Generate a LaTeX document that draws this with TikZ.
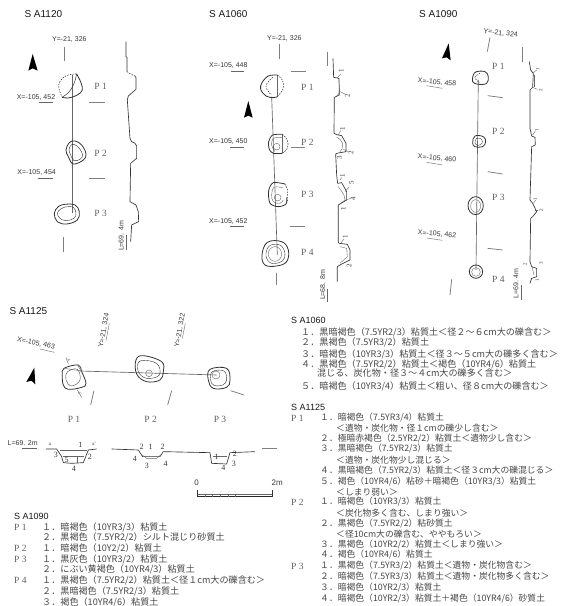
\documentclass[tikz,border=0pt]{standalone}
\usepackage{fontspec}
\setmainfont{Liberation Serif}
\newfontfamily\cjk{Noto Sans CJK JP}
\newfontfamily\arial{Liberation Sans}
\newcounter{ln}
\newcommand\Ln[3]{\stepcounter{ln}\node[jp] (ln\theln) at (#1,#2) {#3};}
\newcommand\Blob[2][]{\draw[hole,#1] plot[smooth cycle,tension=.65] coordinates {#2};}
\colorlet{ink}{black!80}
\tikzset{
 jp/.style={anchor=west,inner sep=0,text=black!72,font=\cjk\fontsize{9.1}{9.1}\selectfont},
 mk/.style={inner sep=0,text=black!78,font=\arial\fontsize{7}{7}\selectfont},
 hd/.style={inner sep=0,text=black!90,font=\arial\fontsize{10}{10}\selectfont},
 hs/.style={anchor=west,inner sep=0,text=black!90,font=\arial\fontsize{9}{9}\selectfont},
 pp/.style={inner sep=0,text=black!62,font=\fontsize{9.5}{9.5}\selectfont},
 nn/.style={inner sep=0,text=black!78,font=\fontsize{8}{8}\selectfont},
 tiny/.style={inner sep=0,text=black!78,font=\fontsize{5}{5}\selectfont},
 tick/.style={draw=black!50,line width=.8pt},
 hole/.style={draw=ink,line width=.8pt},
 thin2/.style={draw=black!60,line width=.4pt},
 base/.style={draw=black!60,line width=.65pt},
 dash2/.style={draw=ink,line width=.55pt,dash pattern=on 1.5pt off 1.2pt},
 prof/.style={draw=ink,line width=.65pt,line join=round},
 zoomed/.style={x=.3333pt,y=-.3333pt},
 north/.style={fill=black,draw=none},
}
\begin{document}
\begin{tikzpicture}[x=1pt,y=-1pt]
\useasboundingbox (0,0) rectangle (562,606);
\fill[white] (0,0) rectangle (562,606);

% ---------- SA1120
\begin{scope}[zoomed]
\node[hd] (h1120) at (130,43) {S A1120};
\node[mk] (y1120) at (208,120) {Y=-21, 326};
\draw[tick] (193,140)--(193,184);
\fill[north] (98,162)--(113,212)--(98,205)--(85,212)--cycle;
\node[mk] (x1a) at (108,292) {X=-105, 452};
\draw[thin2] (117,307)--(160,307);
\node[mk] (x1b) at (110,519) {X=-105, 454};
\draw[thin2] (113,535)--(158,535);
\draw[tick] (268,308)--(314,308);
\draw[tick] (266,536)--(314,536);
\draw[tick] (189,711)--(189,755);
\node[pp] (p1a) at (302,258) {P 1};
\node[pp] (p1b) at (302,460) {P 2};
\node[pp] (p1c) at (302,640) {P 3};
\draw[base] (218,225)--(218,640);
% P1
\draw[hole] plot[smooth,tension=.6] coordinates {(230,222) (243,248) (247,270) (232,285) (205,294) (186,292)};
\draw[hole,line width=.5pt] (186,292)..controls (205,282) and (222,265)..(230,222);
\draw[dash2] plot[smooth,tension=.7] coordinates {(230,222) (197,228) (176,255) (186,290)};
% P2
\Blob{(225,423) (245,435) (258,462) (250,480) (220,492) (205,470) (198,450) (208,428)}
\Blob[line width=.4pt]{(222,433) (238,445) (248,465) (240,478) (222,482) (212,465) (207,450) (212,437)}
% P3
\Blob{(195,613) (225,615) (238,635) (232,660) (200,672) (172,665) (163,640) (175,620)}
\Blob[line width=.4pt]{(195,621) (220,622) (228,640) (222,655) (198,662) (180,655) (172,640) (182,627)}
% section
\draw[prof] (378,125)--(378,170)--(381,172)--(381,215);
\draw[dash2] (381,215)--(392,222)--(405,228);
\draw[prof] (405,228)--(408,233)--(408,268)--(400,275)--(385,288)--(382,300)--(390,415)--(395,425)--(405,430)--(410,438)--(410,475)--(392,490)--(390,605)--(408,615)--(415,635)--(416,665)--(395,675)--(392,725);
\node[mk,rotate=90] (l1) at (364,708) {L=69. 4m};
\draw[thin2] (380,705)--(380,750);
\end{scope}

% ---------- SA1060
\begin{scope}[zoomed,xshift=190pt]
\node[hd] (h1060) at (115,43) {S A1060};
\node[mk] (y1060) at (283,115) {Y=-21, 326};
\draw[tick] (269,133)--(269,178);
\draw[tick] (412,155)--(412,198);
\fill[north] (175,303)--(188,353)--(175,347)--(162,353)--cycle;
\node[mk] (x2a) at (115,198) {X=-105, 448};
\draw[thin2] (122,213)--(162,213);
\node[mk] (x2b) at (115,426) {X=-105, 450};
\draw[thin2] (120,442)--(162,442);
\node[mk] (x2c) at (115,666) {X=-105, 452};
\draw[thin2] (120,680)--(162,680);
\draw[tick] (303,214)--(347,214);
\draw[tick] (303,443)--(345,443);
\draw[tick] (300,680)--(345,680);
\draw[tick] (258,818)--(258,855);
\node[pp] (p2a) at (352,263) {P 1};
\node[pp] (p2b) at (352,427) {P 2};
\node[pp] (p2c) at (352,583) {P 3};
\node[pp] (p2d) at (352,758) {P 4};
\draw[base] (245,290)--(262,765);
% P1
\draw[hole] plot[smooth,tension=.6] coordinates {(262,225) (235,228) (216,248) (212,268) (228,288) (250,293) (262,290)};
\draw[thin2] (262,225)--(262,290);
\draw[dash2] plot[smooth,tension=.7] coordinates {(262,225) (277,240) (280,265) (262,290)};
\draw[dash2] plot[smooth,tension=.7] coordinates {(248,232) (228,258) (244,285)};
% P2
\draw[hole] plot[smooth,tension=.5] coordinates {(277,403) (248,405) (236,425) (238,448) (250,460) (277,460)};
\draw[thin2] (277,403)--(277,460);
\draw[dash2] plot[smooth,tension=.7] coordinates {(277,403) (292,420) (292,445) (277,460)};
\draw[thin2] (260,440) circle [x radius=10,y radius=10];
\draw[thin2] plot[smooth,tension=.6] coordinates {(277,413) (250,415) (245,435) (255,455)};
% P3
\draw[hole] plot[smooth,tension=.5] coordinates {(285,552) (250,548) (236,572) (240,610) (265,620) (288,612) (290,592)};
\draw[dash2] (285,552)--(293,570)--(293,600)--(290,608);
\draw[thin2] plot[smooth,tension=.6] coordinates {(278,563) (252,562) (245,585) (250,605) (270,610) (280,600)};
\draw[thin2] (263,593) circle [x radius=10,y radius=10];
% P4
\Blob{(232,727) (275,725) (295,750) (290,785) (260,798) (225,795) (216,765)}
\Blob[line width=.4pt]{(238,738) (270,735) (285,760) (277,783) (245,790) (228,768)}
\draw[thin2] (255,762) circle [x radius=20,y radius=22];
% section
\draw[prof] (429,175)--(431,232)--(447,235)--(448,285)--(433,292)--(432,400)--(440,404)--(455,407)--(468,430)--(468,455)--(445,459)--(437,462)--(440,525)--(443,550)--(455,548)--(470,575)--(470,600)--(445,615)--(445,725)--(447,730)--(472,733)--(480,750)--(480,780)--(450,795)--(442,800)--(442,845);
\draw[thin2] (447,250)..controls (452,270) and (450,280)..(440,288);
\draw[thin2] (440,412)..controls (460,420) and (465,440)..(450,455);
\draw[thin2] (445,560)--(462,585)--(465,600)--(450,612);
\draw[thin2] (450,740)--(470,745)--(472,770)--(450,790);
\draw[thin2] (441,235)--(452,222);
\draw[thin2] (450,275)--(465,282);
\draw[thin2] (445,405)--(452,392);
\draw[thin2] (460,448)--(475,455);
\draw[thin2] (450,540)--(455,533);
\draw[thin2] (465,575)--(478,560);
\draw[thin2] (468,600)--(482,595);
\draw[thin2] (452,730)--(462,717);
\node[nn,rotate=90,font=\fontsize{7}{7}\selectfont] (n1) at (453,213) {1};
\node[nn,rotate=90,font=\fontsize{7}{7}\selectfont] (n2) at (472,287) {2};
\node[nn,rotate=90,font=\fontsize{7}{7}\selectfont] (n3) at (458,385) {1};
\node[nn,rotate=90,font=\fontsize{7}{7}\selectfont] (n4) at (483,457) {2};
\node[nn,rotate=90,font=\fontsize{7}{7}\selectfont] (n5) at (448,472) {3};
\node[nn,rotate=90,font=\fontsize{7}{7}\selectfont] (n6) at (458,527) {1};
\node[nn,rotate=90,font=\fontsize{7}{7}\selectfont] (n7) at (484,548) {5};
\node[nn,rotate=90,font=\fontsize{7}{7}\selectfont] (n8) at (489,597) {4};
\node[nn,rotate=90,font=\fontsize{7}{7}\selectfont] (n9) at (460,627) {1};
\node[nn,rotate=90,font=\fontsize{7}{7}\selectfont] (n10) at (465,710) {1};
\node[nn,rotate=90,font=\fontsize{7}{7}\selectfont] (n11) at (477,797) {2};
\node[mk,rotate=90] (l2) at (398,855) {L=68. 8m};
\draw[thin2] (413,868)--(413,905);
\end{scope}

% ---------- SA1090
\begin{scope}[zoomed,xshift=380pt]
\node[hd] (h1090) at (175,43) {S A1090};
\node[mk,rotate=-7] (y1090) at (362,100) {Y=-21, 324};
\draw[tick] (330,112)--(322,155);
\draw[tick] (426,140)--(426,185);
\fill[north] (206,130)--(212,181)--(200,172)--(186,175)--cycle;
\node[mk,rotate=-5] (x3a) at (171,248) {X=-105, 458};
\draw[thin2] (140,257)--(187,265);
\node[mk,rotate=-5] (x3b) at (171,476) {X=-105, 460};
\draw[thin2] (140,487)--(187,495);
\node[mk,rotate=-5] (x3c) at (171,703) {X=-105, 462};
\draw[thin2] (140,714)--(187,721);
\draw[tick] (323,287)--(368,293);
\draw[tick] (323,515)--(368,522);
\draw[tick] (323,745)--(368,750);
\draw[tick] (215,838)--(210,885);
\node[pp] (p3a) at (355,200) {P 1};
\node[pp] (p3b) at (355,393) {P 2};
\node[pp] (p3c) at (355,591) {P 3};
\node[pp] (p3d) at (355,838) {P 4};
\draw[base] (295,240)--(288,810);
\Blob{(290,215) (315,215) (325,230) (320,250) (295,253) (278,245) (280,225)}
\draw[dash2] plot[smooth,tension=.7] coordinates {(300,220) (285,232) (298,248)};
\Blob{(285,408) (310,410) (317,425) (308,440) (285,440) (278,428)}
\Blob[line width=.35pt]{(290,415) (305,418) (306,430) (295,436) (285,430)}
\draw[hole] (287,617) circle [x radius=23,y radius=27];
\draw[thin2] (287,618) circle [x radius=15,y radius=19];
\draw[hole] (288,815) circle [x radius=20,y radius=20];
\draw[thin2] (288,816) circle [x radius=13,y radius=13];
% section
\draw[prof] (448,185)--(452,210)--(460,220)--(458,262)--(450,270)--(450,385)--(455,408)--(465,412)--(466,435)--(455,440)--(450,600)--(458,610)--(470,635)--(458,650)--(452,655)--(450,785)--(455,800)--(470,805)--(470,830)--(455,835)--(450,850);
\draw[thin2] (462,225)--(462,260);
\draw[thin2] (456,800)--(462,825);
\draw[thin2] (460,218)--(470,210);
\draw[thin2] (458,262)--(472,268);
\draw[thin2] (458,405)--(466,393);
\draw[thin2] (460,610)--(468,600);
\draw[thin2] (465,630)--(475,630);
\node[tiny,rotate=90] (q1) at (473,209) {1};
\node[tiny,rotate=90] (q2) at (482,270) {2};
\node[tiny,rotate=90] (q3) at (470,391) {1};
\node[tiny,rotate=90] (q4) at (466,598) {1};
\node[tiny,rotate=90] (q5) at (484,630) {2};
\node[tiny,rotate=90] (q6) at (435,793) {2};
\node[tiny,rotate=90] (q7) at (483,790) {3};
\node[tiny,rotate=90] (q8) at (472,840) {1};
\node[mk,rotate=90] (l3) at (408,850) {L=69. 4m};
\draw[thin2] (425,855)--(425,900);
\end{scope}

% ---------- SA1125
\begin{scope}[zoomed,yshift=-300pt]
\node[hd] (h1125) at (85,33) {S A1125};
\node[mk,rotate=-12] (x4) at (108,130) {X=-105, 463};
\draw[thin2] (120,147)--(163,157);
\node[mk,rotate=80] (y4a) at (312,92) {Y=-21, 324};
\draw[thin2] (328,70)--(318,122);
\node[mk,rotate=80] (y4b) at (540,92) {Y=-21, 322};
\draw[thin2] (556,70)--(547,115);
\fill[north] (103,203)--(106,253)--(94,242)--(79,246)--cycle;
\draw[base] (240,213)--(650,225);
% P1
\Blob{(192,205) (235,195) (245,215) (258,250) (245,262) (205,268) (190,255) (187,225)}
\Blob[line width=.35pt]{(203,215) (232,208) (240,240) (215,258) (198,240)}
\draw[thin2] (192,205)--(240,212);
\draw[thin2] (232,194)--(245,215);
\node[tiny,rotate=-70,font=\fontsize{4.5}{4.5}\selectfont] (a1) at (207,181) {a};
\draw[thin2] (198,172)--(205,192);
\node[tiny,rotate=-70,font=\fontsize{4.5}{4.5}\selectfont] (a2) at (240,280) {a'};
\draw[thin2] (232,270)--(245,292);
% P2
\Blob{(408,180) (430,167) (485,185) (490,215) (480,240) (440,245) (410,222)}
\Blob[line width=.4pt]{(420,183) (470,190) (478,225) (440,235) (415,215)}
\draw[thin2] (447,220) circle [x radius=10,y radius=10];
% P3
\Blob{(630,208) (680,205) (690,240) (680,262) (640,265) (625,240)}
\Blob[line width=.4pt]{(637,215) (672,213) (680,240) (668,255) (642,256) (632,240)}
\draw[thin2] (648,225) circle [x radius=12,y radius=12];
% ticks
\draw[tick] (282,272)--(272,315);
\draw[tick] (515,272)--(503,315);
\draw[tick] (692,272)--(732,285);
\node[pp] (p4a) at (222,357) {P 1};
\node[pp] (p4b) at (452,357) {P 2};
\node[pp] (p4c) at (660,357) {P 3};
% sections
\node[mk] (l4) at (68,429) {L=69. 2m};
\draw[thin2] (65,445)--(110,445);
\node[tiny] (a3) at (150,432) {a};
\node[tiny] (a4) at (282,432) {a'};
\draw[prof] (138,447)--(170,447)--(185,470)--(190,488)--(215,490)--(250,488)--(265,450)--(290,447);
\draw[thin2] (180,452)--(262,452);
\draw[thin2] (190,470)--(252,470);
\draw[thin2] (232,470)--(232,488);
\draw[prof] (335,447)--(415,450)--(428,470)--(480,470)--(490,455)--(630,458)--(635,490)--(680,492)--(690,458)--(765,455);
\draw[thin2] (420,460)--(440,475)--(470,475)--(485,462);
\draw[thin2] (640,470)--(680,470);
\draw[tick] (787,445)--(832,445);
\node[nn] (s1) at (241,435) {1};
\node[nn] (s2) at (168,465) {3};
\node[nn] (s3) at (270,470) {2};
\node[nn] (s4) at (200,480) {5};
\node[nn] (s5) at (222,508) {4};
\node[nn] (s6) at (425,440) {2};
\node[nn] (s7) at (452,440) {1};
\node[nn] (s8) at (488,440) {2};
\node[nn] (s9) at (405,478) {4};
\node[nn] (s10) at (441,497) {3};
\node[nn] (s11) at (497,492) {4};
\node[nn] (s12) at (650,470) {1};
\node[nn] (s13) at (705,463) {2};
\node[nn] (s14) at (702,492) {3};
\node[nn] (s15) at (670,505) {4};
\end{scope}

% ---------- scale
\begin{scope}[zoomed,yshift=-480pt]
\node[mk,font=\arial\fontsize{8}{8}\selectfont] (sc0) at (590,8) {0};
\node[mk,font=\arial\fontsize{8}{8}\selectfont] (sc2) at (832,8) {2m};
\draw[black!85,line width=.9pt] (592,50)--(820,50);
\draw[black!60,line width=.35pt] (592,42)--(820,42);
\draw[black!80,line width=.5pt] (592,30)--(592,50) (818,30)--(818,50);
\foreach \xx in {615,638,661,684,707} \draw[black!60,line width=.4pt] (\xx,42)--(\xx,50);
\end{scope}

% ---------- Texts: SA1090
\node[hs] (t1090) at (14,516) {S A1090};
\node[pp,anchor=west] (t1090a) at (14,527) {P 1};
\Ln{42}{527}{１．暗褐色（10YR3/3）粘質土}
\Ln{42}{537.5}{２．黒褐色（7.5YR2/2）シルト混じり砂質土}
\node[pp,anchor=west] (t1090b) at (14,548) {P 2};
\Ln{42}{548}{１．暗褐色（10Y2/2）粘質土}
\node[pp,anchor=west] (t1090c) at (14,559) {P 3};
\Ln{42}{559}{１．黒灰色（10YR3/2）粘質土}
\Ln{42}{569.5}{２．にぶい黄褐色（10YR4/3）粘質土}
\node[pp,anchor=west] (t1090d) at (14,580) {P 4};
\Ln{42}{580}{１．黒褐色（7.5YR2/2）粘質土＜径１cm大の礫含む＞}
\Ln{42}{591}{２．黒暗褐色（7.5YR2/3）粘質土}
\Ln{42}{602}{３．褐色（10YR4/6）粘質土}

% ---------- Texts: SA1060
\node[hs] (t1060) at (291,320) {S A1060};
\Ln{301}{332}{１．黒暗褐色（7.5YR2/3）粘質土＜径２～６cm大の礫含む＞}
\Ln{301}{342.5}{２．黒褐色（7.5YR3/2）粘質土}
\Ln{301}{354}{３．暗褐色（10YR3/3）粘質土＜径３～５cm大の礫多く含む＞}
\Ln{301}{364}{４．黒褐色（7.5YR2/2）粘質土＜褐色（10YR4/6）粘質土}
\Ln{317}{373.5}{混じる、炭化物・径３～４cm大の礫多く含む＞}
\Ln{301}{386}{５．暗褐色（10YR3/4）粘質土＜粗い、径８cm大の礫含む＞}

% ---------- Texts: SA1125
\begin{scope}[jp/.style={anchor=west,inner sep=0,text=black!72,font=\cjk\fontsize{8.8}{8.8}\selectfont}]
\node[hs] (t1125) at (291,407) {S A1125};
\node[pp,anchor=west] (t1125a) at (291,418) {P 1};
\Ln{320}{418}{１．暗褐色（7.5YR3/4）粘質土}
\Ln{336}{428}{＜遺物・炭化物・径１cmの礫少し含む＞}
\Ln{320}{439}{２．極暗赤褐色（2.5YR2/2）粘質土＜遺物少し含む＞}
\Ln{320}{449}{３．黒暗褐色（7.5YR2/3）粘質土}
\Ln{336}{460}{＜遺物・炭化物少し混じる＞}
\Ln{320}{471}{４．黒暗褐色（7.5YR2/3）粘質土＜径３cm大の礫混じる＞}
\Ln{320}{482}{５．褐色（10YR4/6）粘砂＋暗褐色（10YR3/3）粘質土}
\Ln{336}{492}{＜しまり弱い＞}
\node[pp,anchor=west] (t1125b) at (291,502) {P 2};
\Ln{320}{502}{１．暗褐色（10YR3/3）粘質土}
\Ln{336}{513}{＜炭化物多く含む、しまり強い＞}
\Ln{320}{524}{２．黒褐色（7.5YR2/2）粘砂質土}
\Ln{336}{534}{＜径10cm大の礫含む、ややもろい＞}
\Ln{320}{545}{３．黒褐色（10YR2/2）粘質土＜しまり強い＞}
\Ln{320}{555}{４．褐色（10YR4/6）粘質土}
\node[pp,anchor=west] (t1125c) at (291,566) {P 3};
\Ln{320}{566}{１．黒褐色（7.5YR3/2）粘質土＜遺物・炭化物含む＞}
\Ln{320}{577}{２．暗褐色（7.5YR3/3）粘質土＜遺物・炭化物多く含む＞}
\Ln{320}{588}{３．暗褐色（10YR2/3）粘質土}
\Ln{320}{599}{４．暗褐色（10YR2/3）粘質土＋褐色（10YR4/6）砂質土}
\end{scope}
\end{tikzpicture}
\end{document}
